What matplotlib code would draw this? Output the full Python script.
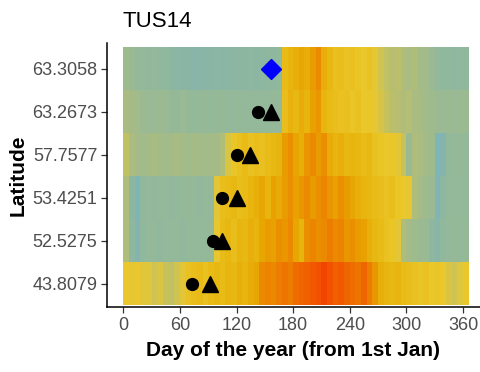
import numpy as np
import matplotlib.pyplot as plt
from matplotlib.colors import LinearSegmentedColormap

plt.rcParams['font.family'] = ['Liberation Sans', 'DejaVu Sans']

# latitudes (bottom -> top) and day bins (6-day bins over the year)
latitudes = ['43.8079', '52.5275', '53.4251', '57.7577', '63.2673', '63.3058']
bin_edges = np.arange(0, 367, 6)

# index per 6-day bin, one row per latitude
lat_43_8079 = [5.0, 4.8, 5.0, 4.6, 4.4, 3.8, 4.2, 3.6, 3.4, 3.8, 4.6, 5.4, 5.6, 5.8, 5.4, 5.8,
               6.0, 5.8, 6.2, 6.0, 6.4, 6.2, 6.6, 6.8, 7.8, 8.0, 7.8, 8.2, 8.4, 8.2, 8.6, 8.8,
               9.0, 9.2, 9.4, 9.8, 9.4, 9.0, 9.2, 8.8, 8.6, 8.4, 8.8, 8.2, 7.4, 6.4, 6.2, 6.0,
               6.2, 5.8, 5.6, 5.4, 5.2, 5.4, 5.0, 5.2, 5.0, 4.2, 3.8, 4.4, 5.0]
lat_52_5275 = [3.0, 1.6, 0.8, 1.8, 2.0, 2.0, 1.9, 2.0, 2.0, 2.0, 1.9, 2.0, 2.0, 2.0, 2.0, 2.1,
               4.8, 5.8, 6.0, 5.6, 6.2, 6.0, 6.4, 6.2, 6.8, 7.2, 7.0, 7.6, 7.4, 7.8, 6.8, 6.2,
               7.6, 8.0, 7.6, 7.8, 8.2, 7.8, 8.0, 7.4, 7.6, 7.2, 7.0, 6.4, 6.0, 5.8, 5.4, 5.2,
               4.6, 3.0, 2.6, 2.4, 2.3, 2.2, 1.6, 1.2, 1.8, 2.0, 2.1, 2.0, 2.1]
lat_53_4251 = [3.0, 1.4, 0.6, 1.8, 2.0, 1.9, 2.0, 2.0, 1.9, 2.0, 2.0, 2.1, 2.0, 1.9, 2.0, 2.0,
               4.6, 5.6, 5.8, 6.0, 5.6, 5.8, 6.2, 6.4, 6.8, 6.2, 7.0, 6.6, 7.2, 7.6, 7.0, 7.4,
               7.8, 7.2, 7.6, 7.9, 7.4, 7.0, 7.6, 7.2, 6.8, 6.4, 6.2, 6.0, 5.8, 5.6, 5.4, 5.6,
               5.2, 5.0, 4.8, 3.0, 2.6, 2.4, 2.2, 0.7, 1.6, 2.0, 2.0, 2.0, 2.0]
lat_57_7577 = [3.4, 2.8, 2.6, 2.5, 2.6, 2.7, 2.6, 2.5, 2.6, 2.7, 2.6, 2.5, 2.6, 2.6, 2.5, 2.6,
               2.6, 3.0, 4.2, 5.2, 5.5, 5.8, 5.4, 5.6, 5.5, 5.8, 6.0, 6.2, 7.2, 7.6, 6.8, 6.4,
               7.4, 7.8, 7.2, 7.6, 6.6, 6.2, 6.4, 6.0, 6.2, 6.0, 5.8, 6.0, 5.4, 5.2, 5.0, 5.1,
               4.6, 3.6, 2.2, 3.0, 2.8, 2.6, 2.4, 0.6, 0.8, 2.0, 2.0, 2.1, 2.0]
lat_63_2673 = [2.8, 2.6, 2.5, 2.3, 2.2, 2.2, 2.3, 2.2, 2.1, 2.1, 2.2, 2.1, 2.0, 2.1, 2.1, 2.0,
               2.1, 2.1, 2.0, 2.0, 2.1, 2.0, 2.0, 2.0, 2.0, 2.0, 2.1, 2.0, 5.6, 6.3, 6.0, 6.6,
               6.2, 7.0, 7.4, 6.2, 5.8, 5.6, 5.4, 5.5, 5.2, 5.4, 5.0, 5.1, 4.8, 4.0, 3.6, 3.3,
               3.2, 3.0, 3.1, 2.8, 2.7, 2.5, 2.4, 2.3, 2.2, 2.3, 2.2, 2.3, 2.3]
lat_63_3058 = [2.4, 2.2, 2.0, 2.0, 1.9, 2.0, 1.8, 1.8, 1.5, 1.4, 1.3, 1.3, 1.2, 1.2, 1.3, 1.3,
               1.4, 1.3, 1.4, 1.5, 1.5, 1.5, 1.6, 1.5, 1.6, 1.7, 1.7, 1.8, 5.8, 6.2, 6.4, 6.8,
               6.5, 7.2, 7.8, 6.5, 6.0, 5.5, 5.6, 5.3, 5.5, 5.2, 5.0, 5.3, 4.8, 3.8, 3.4, 3.2,
               3.3, 3.0, 2.8, 3.0, 2.6, 2.5, 2.2, 2.0, 1.8, 1.8, 1.7, 1.8, 1.9]

# observed dates per latitude
circle_days = [73, 95, 105, 120, 143]
circle_rows = [1, 2, 3, 4, 5]
triangle_days = [92, 105, 120, 134, 156]
triangle_rows = [1, 2, 3, 4, 5]
diamond_days = [156]
diamond_rows = [6]

grid = np.array([lat_43_8079, lat_52_5275, lat_53_4251, lat_57_7577, lat_63_2673, lat_63_3058])

stops = ['#78b6c4', '#86b4aa', '#93b99a', '#b0bd7a', '#d6c448', '#eac82c',
         '#e8b812', '#e8a200', '#ec8400', '#f06000', '#f43c00']
cmap = LinearSegmentedColormap.from_list('season', stops)

fig = plt.figure(figsize=(4.81, 3.72), dpi=100)
ax = fig.add_axes([107 / 481, 65 / 372, 373 / 481, 264 / 372])

ax.pcolormesh(bin_edges, np.arange(0.5, 7.0, 1.0), grid, cmap=cmap, vmin=0, vmax=10,
              shading='flat', rasterized=True)

ax.plot(circle_days, circle_rows, 'o', color='black', ms=8.5, zorder=3)
ax.plot(triangle_days, triangle_rows, '^', color='black', ms=12, zorder=3)
ax.plot(diamond_days, diamond_rows, 'D', color='#0000ff', ms=10, zorder=3)

ax.set_xlim(-17.3, 378)
ax.set_ylim(0.46, 6.6)
ax.set_xticks([0, 60, 120, 180, 240, 300, 360])
ax.set_yticks(range(1, 7))
ax.set_yticklabels(latitudes)

for side in ['top', 'right']:
    ax.spines[side].set_visible(False)
for side in ['left', 'bottom']:
    ax.spines[side].set_linewidth(1.1)
ax.tick_params(length=4, width=0.9, color='#333333', labelcolor='#4d4d4d', labelsize=13, pad=3)

ax.set_xlabel('Day of the year (from 1st Jan)', fontsize=15, fontweight='bold', labelpad=5)
ax.set_ylabel('Latitude', fontsize=15, fontweight='bold', labelpad=3)
fig.text(123 / 481, 1 - 11 / 372, 'TUS14', fontsize=16, ha='left', va='top')

fig.savefig('out.png', dpi=100)
